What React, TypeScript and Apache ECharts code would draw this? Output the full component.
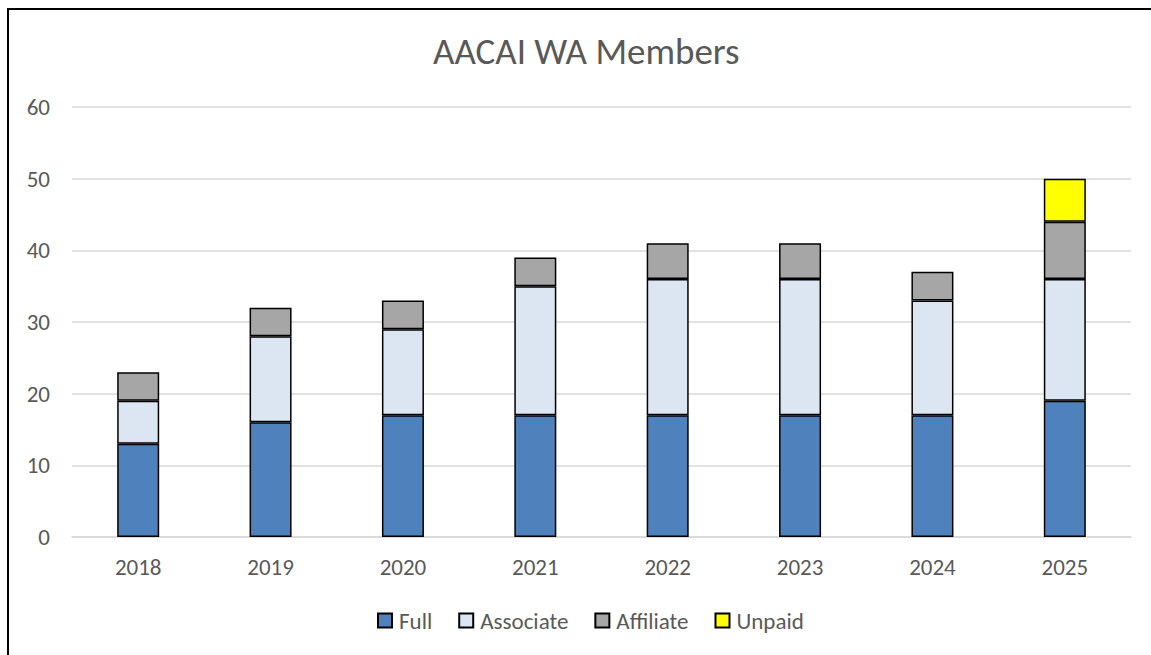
import React, { useEffect, useRef } from "react";
import * as echarts from "echarts";

const years = ["2018", "2019", "2020", "2021", "2022", "2023", "2024", "2025"];
const full = [13, 16, 17, 17, 17, 17, 17, 19];
const associate = [6, 12, 12, 18, 19, 19, 16, 17];
const affiliate = [4, 4, 4, 4, 5, 5, 4, 8];
const unpaid = [0, 0, 0, 0, 0, 0, 0, 6];

const FONT = "Carlito, Lato, 'Open Sans', sans-serif";

export default function App() {
  const ref = useRef<HTMLDivElement>(null);
  useEffect(() => {
    if (!ref.current) return;
    const chart = echarts.init(ref.current, undefined, { renderer: "svg" });
    const mk = (name: string, data: number[], color: string) => ({
      name,
      type: "bar",
      stack: "total",
      data: data.map((v) => (v === 0 ? null : v)),
      barWidth: 42,
      itemStyle: { color, borderColor: "#000", borderWidth: 1.5 },
    });
    chart.setOption({
      animation: false,
      backgroundColor: "#fff",
      title: {
        text: "AACAI WA Members",
        left: 428,
        top: 28,
        textStyle: { fontFamily: FONT, fontSize: 37, fontWeight: "normal", color: "#595959" },
      },
      grid: { left: 72, right: 20, top: 107, bottom: 118 },
      legend: {
        top: 604,
        left: 372,
        itemWidth: 14,
        itemHeight: 14,
        itemGap: 26,
        icon: "rect",
        textStyle: { fontFamily: FONT, fontSize: 23, color: "#595959", padding: [0, 0, 0, 2] },
        data: ["Full", "Associate", "Affiliate", "Unpaid"],
      },
      xAxis: {
        type: "category",
        data: years,
        axisLine: { lineStyle: { color: "#d9d9d9", width: 1.5 } },
        axisTick: { show: false },
        axisLabel: { fontFamily: FONT, fontSize: 23, color: "#595959", margin: 18 },
      },
      yAxis: {
        type: "value",
        min: 0,
        max: 60,
        interval: 10,
        axisLine: { show: false },
        axisTick: { show: false },
        splitLine: { lineStyle: { color: "#d9d9d9", width: 1.5 } },
        axisLabel: { fontFamily: FONT, fontSize: 23, color: "#595959", margin: 22 },
      },
      graphic: [
        {
          type: "rect",
          shape: { x: 8, y: 9, width: 1200, height: 700 },
          style: { fill: "none", stroke: "#000", lineWidth: 2 },
          silent: true,
        },
      ],
      series: [
        mk("Full", full, "#4f81bd"),
        mk("Associate", associate, "#dce6f2"),
        mk("Affiliate", affiliate, "#a6a6a6"),
        mk("Unpaid", unpaid, "#ffff00"),
      ],
    });
    return () => chart.dispose();
  }, []);
  return (
    <div
      ref={ref}
      style={{ position: "fixed", left: 0, top: 0, width: 1151, height: 655 }}
    />
  );
}
